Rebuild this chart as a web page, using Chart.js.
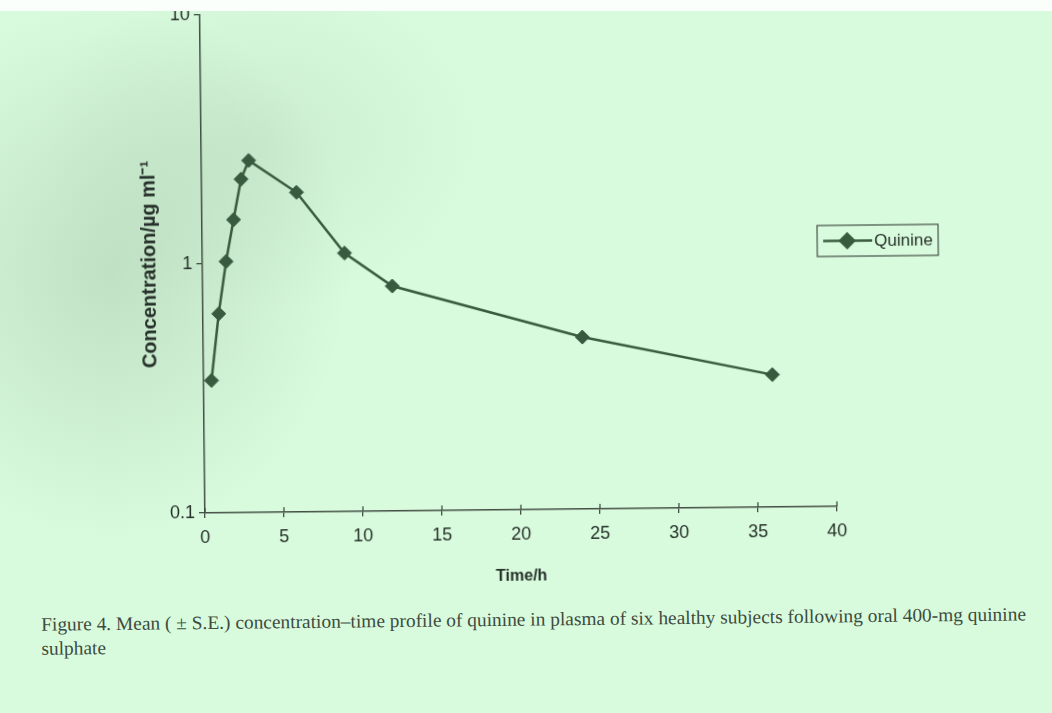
<!DOCTYPE html>
<html>
<head>
<meta charset="utf-8">
<title>Quinine plasma concentration</title>
<script src="https://cdn.jsdelivr.net/npm/chart.js@4.4.1/dist/chart.umd.min.js"></script>
<style>
  html, body { margin: 0; padding: 0; }
  body {
    width: 1052px; height: 713px; overflow: hidden; position: relative;
    background:
      radial-gradient(ellipse 240px 270px at 110px 270px, rgba(110, 140, 115, 0.24), rgba(110, 140, 115, 0) 100%),
      radial-gradient(ellipse 220px 170px at 260px 140px, rgba(110, 140, 115, 0.13), rgba(110, 140, 115, 0) 100%),
      #d9fbdd;
  }
  #page {
    position: absolute; left: 0; top: 0; width: 1052px; height: 713px;
    transform: rotate(-0.6deg); transform-origin: 205px 513px;
  }
  #chart { position: absolute; left: 0; top: 0; }
  #caption {
    position: absolute; left: 40px; top: 611px;
    font-family: "Liberation Serif", "DejaVu Serif", serif;
    font-size: 19px; line-height: 24px; color: #3d4b40;
    white-space: nowrap; transform-origin: 0 0;
  }
  #top-edge { position: absolute; left: 0; top: 0; width: 1052px; height: 11px; background: #fbfffb; }
</style>
</head>
<body>
<div id="page">
  <canvas id="chart" width="1052" height="600"></canvas>
  <div id="caption"><span id="cap1">Figure 4. Mean ( ± S.E.) concentration–time profile of quinine in plasma of six healthy subjects following oral 400-mg quinine</span><br>sulphate</div>
</div>
<div id="top-edge"></div>
<script>
// sampling times (h) and mean plasma quinine (µg/ml)
const hours = [0.5, 1, 1.5, 2, 2.5, 3, 6, 9, 12, 24, 36];
const quinine = [0.34, 0.63, 1.02, 1.50, 2.18, 2.59, 1.92, 1.09, 0.80, 0.49, 0.34];

const xTicks = [0, 5, 10, 15, 20, 25, 30, 35, 40];
const yTicks = [0.1, 1, 10];

const ink = "#26302a";
const axisColor = "#434f45";
const lineColor = "#385a3e";
const sans = '"Liberation Sans", Arial, sans-serif';

// x-axis tick marks cross the axis line: draw the upper half here
const innerTicks = {
  id: "innerTicks",
  afterDraw(chart) {
    const { ctx, chartArea } = chart;
    const x = chart.scales.x;
    ctx.save();
    ctx.strokeStyle = axisColor;
    ctx.lineWidth = 1.3;
    x.ticks.forEach((t) => {
      const px = x.getPixelForValue(t.value);
      ctx.beginPath();
      ctx.moveTo(px, chartArea.bottom);
      ctx.lineTo(px, chartArea.bottom - 5);
      ctx.stroke();
    });
    ctx.restore();
  },
};

// boxed legend sitting to the right of the plot
const boxLegend = {
  id: "boxLegend",
  afterDraw(chart) {
    const ds = chart.data.datasets[0];
    const ctx = chart.ctx;
    const bx = 820, by = 232, bw = 121, bh = 31;
    const my = by + bh / 2;
    ctx.save();
    ctx.strokeStyle = axisColor;
    ctx.lineWidth = 1.2;
    ctx.strokeRect(bx, by, bw, bh);

    ctx.strokeStyle = ds.borderColor;
    ctx.lineWidth = ds.borderWidth;
    ctx.beginPath();
    ctx.moveTo(bx + 6, my);
    ctx.lineTo(bx + 55, my);
    ctx.stroke();

    ctx.fillStyle = ds.pointBackgroundColor;
    ctx.strokeStyle = ds.pointBorderColor;
    Chart.helpers.drawPoint(ctx, { pointStyle: "rectRot", radius: ds.pointRadius, borderWidth: 1 }, bx + 30, my);

    ctx.fillStyle = ink;
    ctx.font = "17px " + sans;
    ctx.textBaseline = "middle";
    ctx.fillText(ds.label, bx + 57, my + 1);
    ctx.restore();
  },
};

new Chart(document.getElementById("chart"), {
  type: "line",
  data: {
    datasets: [
      {
        label: "Quinine",
        data: hours.map((h, i) => ({ x: h, y: quinine[i] })),
        borderColor: lineColor,
        borderWidth: 2.5,
        pointStyle: "rectRot",
        pointRadius: 7,
        pointBackgroundColor: lineColor,
        pointBorderColor: lineColor,
        pointBorderWidth: 1,
        tension: 0,
      },
    ],
  },
  options: {
    responsive: false,
    animation: false,
    layout: { padding: { left: 136, right: 215, top: 8, bottom: 7 } },
    plugins: { legend: { display: false }, tooltip: { enabled: false } },
    scales: {
      x: {
        type: "linear",
        min: 0,
        max: 40,
        afterBuildTicks: (s) => { s.ticks = xTicks.map((v) => ({ value: v })); },
        afterFit: (s) => { s.height = 80; },
        grid: { drawOnChartArea: false, tickLength: 5, color: axisColor, lineWidth: 1.3 },
        border: { color: axisColor, width: 1.5 },
        ticks: { color: ink, font: { family: sans, size: 18 }, padding: 9, maxRotation: 0 },
        title: {
          display: true,
          text: "Time/h",
          color: ink,
          font: { family: sans, size: 16, weight: "bold" },
          padding: { top: 4, bottom: 4 },
        },
      },
      y: {
        type: "logarithmic",
        min: 0.1,
        max: 10,
        afterBuildTicks: (s) => { s.ticks = yTicks.map((v) => ({ value: v })); },
        afterFit: (s) => { s.width = 69; },
        grid: { drawOnChartArea: false, tickLength: 6, color: axisColor, lineWidth: 1.3 },
        border: { color: axisColor, width: 1.5 },
        ticks: { color: ink, font: { family: sans, size: 18 }, padding: 4, callback: (v) => String(v) },
        title: {
          display: true,
          text: "Concentration/µg ml⁻¹",
          color: ink,
          font: { family: sans, size: 20, weight: "bold" },
          padding: { top: 4, bottom: 4 },
        },
      },
    },
  },
  plugins: [innerTicks, boxLegend],
});

// stretch the first caption line to the printed column width
const cap1 = document.getElementById("cap1");
const caption = document.getElementById("caption");
const w = cap1.getBoundingClientRect().width;
caption.style.transform = "scaleX(" + (985 / w).toFixed(4) + ")";
</script>
</body>
</html>
